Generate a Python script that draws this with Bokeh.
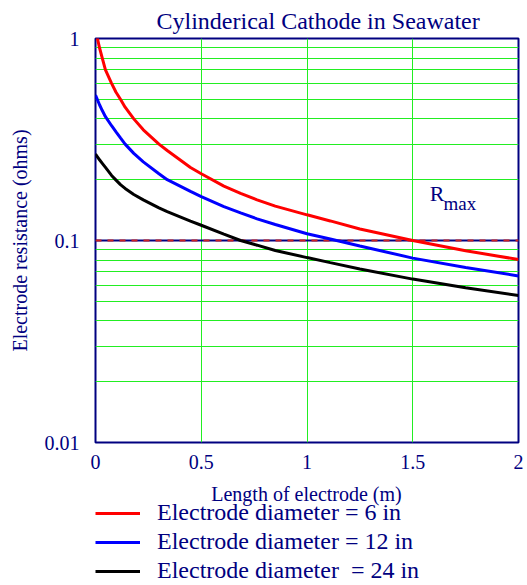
from bokeh.plotting import figure
from bokeh.layouts import column
from bokeh.models import Range1d, FixedTicker, Legend, LegendItem, Label
from bokeh.embed import file_html
from bokeh.resources import INLINE

# Data
length_m = [0, 0.019, 0.032, 0.047, 0.076, 0.097, 0.118, 0.14, 0.181, 0.226, 0.30, 0.339, 0.449, 0.5,
            0.607, 0.686, 0.764, 0.85, 1.0, 1.11, 1.25, 1.5, 1.75, 2.0]
r_6in = [1.1, 0.9, 0.8, 0.7, 0.6, 0.542, 0.5, 0.457, 0.4, 0.353, 0.3, 0.279, 0.230, 0.214,
         0.186, 0.171, 0.159, 0.148, 0.134, 0.125, 0.114, 0.100, 0.089, 0.0805]
r_12in = [0.524, 0.47, 0.44, 0.41, 0.37, 0.345, 0.322, 0.30, 0.27, 0.245, 0.214, 0.20, 0.175, 0.165,
          0.147, 0.137, 0.128, 0.120, 0.108, 0.1018, 0.094, 0.0818, 0.0735, 0.0668]
r_24in = [0.268, 0.251, 0.241, 0.230, 0.210, 0.199, 0.189, 0.181, 0.169, 0.159, 0.145, 0.139, 0.1247, 0.119,
          0.1075, 0.100, 0.0948, 0.0892, 0.0823, 0.0777, 0.0723, 0.0644, 0.0584, 0.0534]
r_max = 0.1

x_ticks = [0, 0.5, 1, 1.5, 2]
y_ticks = [0.01, 0.1, 1]
y_minor = [0.02, 0.03, 0.04, 0.05, 0.06, 0.07, 0.08, 0.09, 0.2, 0.3, 0.4, 0.5, 0.6, 0.7, 0.8, 0.9]

series_labels = ["Electrode diameter = 6 in", "Electrode diameter = 12 in", "Electrode diameter  = 24 in"]
series_colors = ["#ff0000", "#0000ff", "#000000"]
series_values = [r_6in, r_12in, r_24in]

NAVY = "#000080"
GRID = "#22ee22"
FONT = "'Liberation Serif'"

p = figure(width=527, height=475, output_backend="svg", toolbar_location=None,
           y_axis_type="log", x_range=Range1d(0, 2), y_range=Range1d(0.01, 1),
           min_border_left=95, min_border_right=9, min_border_top=38, min_border_bottom=33)

p.outline_line_color = NAVY
p.outline_line_width = 2

# title
p.title.text = "Cylinderical Cathode in Seawater"
p.title.align = "left"
p.title.offset = 61
p.title.vertical_align = "middle"
p.title.text_font = FONT
p.title.text_font_size = "24px"
p.title.text_font_style = "normal"
p.title.text_color = NAVY
p.title.standoff = 8

# axes
p.xaxis.ticker = FixedTicker(ticks=x_ticks)
p.yaxis.ticker = FixedTicker(ticks=y_ticks, minor_ticks=y_minor)
p.xaxis.major_label_overrides = {0: "0", 0.5: "0.5", 1: "1", 1.5: "1.5", 2: "2"}
p.yaxis.major_label_overrides = {0.01: "0.01", 0.1: "0.1", 1: "1"}
for ax in (p.xaxis[0], p.yaxis[0]):
    ax.axis_line_color = None
    ax.major_tick_line_color = None
    ax.minor_tick_line_color = None
    ax.major_label_text_font = FONT
    ax.major_label_text_font_size = "20px"
    ax.major_label_text_color = NAVY
    ax.axis_label_text_font = FONT
    ax.axis_label_text_font_size = "20px"
    ax.axis_label_text_color = NAVY
    ax.axis_label_text_font_style = "normal"
p.yaxis.axis_label = "Electrode resistance (ohms)"
p.yaxis.major_label_standoff = 10
p.yaxis.axis_label_standoff = 11
p.xaxis.major_label_standoff = 6

# grid
p.xgrid.grid_line_color = GRID
p.xgrid.grid_line_width = 1
p.ygrid.grid_line_color = GRID
p.ygrid.minor_grid_line_color = GRID
p.ygrid.minor_grid_line_width = 1

# Rmax line
p.line([0, 2], [r_max, r_max], line_color=NAVY, line_width=2)
p.line([0, 2], [r_max, r_max], line_color="#cc2020", line_width=2, line_dash="6 6")

for ys, c in zip(series_values, series_colors):
    p.line(length_m, ys, line_color=c, line_width=3)

# R_max label
p.add_layout(Label(x=1.58, y=0.171, text="R", text_align="left", text_baseline="middle",
                   text_font=FONT, text_font_size="22px", text_color=NAVY))
p.add_layout(Label(x=1.645, y=0.153, text="max", text_align="left", text_baseline="middle",
                   text_font=FONT, text_font_size="19px", text_color=NAVY))

# lower strip: x-axis title and legend. Its frame is aligned with the plot frame
# (x 95..518 px); ranges chosen so one data unit = one pixel, y measured from bottom.
lf = figure(width=527, height=110, output_backend="svg", toolbar_location=None,
            x_range=Range1d(95, 518), y_range=Range1d(0, 110),
            x_axis_location=None, y_axis_location=None,
            min_border=0, outline_line_color=None)
lf.grid.visible = False
lf.add_layout(Label(x=306, y=92, text="Length of electrode (m)", text_align="center",
                    text_baseline="middle", text_font=FONT, text_font_size="20px", text_color=NAVY))
items = []
for ys, c, lab in zip(series_values, series_colors, series_labels):
    # same series, lying outside this strip's visible range; only the legend sample shows
    r = lf.line(length_m, ys, line_color=c, line_width=3)
    items.append(LegendItem(label=lab, renderers=[r]))
legend = Legend(items=items, location=(0, 1))
legend.label_text_font = FONT
legend.label_text_font_size = "24px"
legend.label_text_color = NAVY
legend.glyph_width = 45
legend.glyph_height = 24
legend.label_height = 24
legend.label_standoff = 17
legend.spacing = 2
legend.padding = 0
legend.margin = 0
legend.border_line_color = None
legend.background_fill_alpha = 0
lf.add_layout(legend, "center")

layout = column(p, lf, spacing=0)
open("out.html", "w").write(file_html(layout, INLINE))
